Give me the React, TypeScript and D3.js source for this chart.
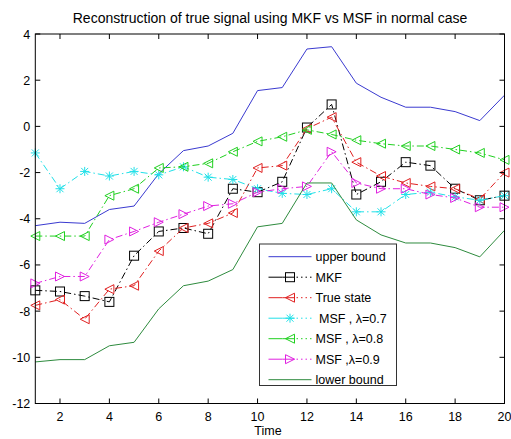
import React from "react";
import * as d3 from "d3";

const time = [1, 2, 3, 4, 5, 6, 7, 8, 9, 10, 11, 12, 13, 14, 15, 16, 17, 18, 19, 20];
const upperBound = [-4.3, -4.15, -4.2, -3.6, -3.45, -2.05, -1.05, -0.85, -0.3, 1.55, 1.68, 3.35, 3.45, 1.87, 1.26, 0.83, 0.83, 0.64, 0.25, 1.35];
const mkf = [-7.1, -7.15, -7.35, -7.6, -5.6, -4.55, -4.4, -4.65, -2.7, -2.85, -2.4, -0.05, 0.95, -2.95, -2.4, -1.55, -1.7, -2.7, -3.2, -3.0];
const trueState = [-7.75, -7.5, -8.35, -7.05, -6.9, -5.4, -4.4, -4.2, -3.75, -1.8, -1.7, -0.1, 0.4, -1.55, -2.15, -2.45, -2.6, -2.7, -3.15, -2.0];
const msf07 = [-1.15, -2.7, -1.95, -2.15, -1.95, -2.1, -1.75, -2.2, -2.3, -2.7, -2.9, -2.95, -2.7, -3.7, -3.7, -2.95, -2.85, -3.05, -3.2, -3.0];
const msf08 = [-4.75, -4.75, -4.75, -3.0, -2.7, -1.8, -1.75, -1.6, -1.1, -0.65, -0.45, -0.15, -0.35, -0.6, -0.75, -0.85, -0.85, -1.0, -1.15, -1.45];
const msf09 = [-6.8, -6.5, -6.5, -4.9, -4.55, -4.15, -3.8, -3.45, -3.35, -2.85, -2.7, -2.6, -1.1, -2.45, -2.7, -2.7, -2.95, -3.1, -3.5, -3.5];
const lowerBound = [-10.2, -10.1, -10.1, -9.5, -9.35, -7.9, -6.9, -6.7, -6.2, -4.35, -4.2, -2.45, -2.45, -4.05, -4.7, -5.05, -5.05, -5.25, -5.65, -4.5];

const xTicks = [2, 4, 6, 8, 10, 12, 14, 16, 18, 20];
const yTicks = [4, 2, 0, -2, -4, -6, -8, -10, -12];

type Marker = "none" | "square" | "left" | "right" | "star";
interface Series {
  name: string;
  values: number[];
  color: string;
  marker: Marker;
  dash: string | null;
}

const series: Series[] = [
  { name: "upper bound", values: upperBound, color: "#3a3ad0", marker: "none", dash: null },
  { name: "MKF", values: mkf, color: "#000000", marker: "square", dash: "7,3,1.5,3" },
  { name: "True state", values: trueState, color: "#e02020", marker: "left", dash: "7,3,1.5,3" },
  { name: "\u00a0MSF , \u03bb=0.7", values: msf07, color: "#20e0e8", marker: "star", dash: "7,3,1.5,3" },
  { name: "MSF , \u03bb=0.8", values: msf08, color: "#20d020", marker: "left", dash: "7,3,1.5,3" },
  { name: "MSF ,\u03bb=0.9", values: msf09, color: "#e020e0", marker: "right", dash: "7,3,1.5,3" },
  { name: "lower bound", values: lowerBound, color: "#2e8b3e", marker: "none", dash: null },
];

const W = 511, H = 439;
const L = 35.3, R = 504.5, T = 34, B = 403.5;

function MarkerShape({ type, x, y, color }: { type: Marker; x: number; y: number; color: string }) {
  const s = 4.5;
  if (type === "square")
    return <rect x={x - s} y={y - s} width={2 * s} height={2 * s} fill="none" stroke={color} strokeWidth={1} />;
  if (type === "left")
    return <polygon points={`${x - s},${y} ${x + s},${y - s} ${x + s},${y + s}`} fill="none" stroke={color} strokeWidth={1} />;
  if (type === "right")
    return <polygon points={`${x + s},${y} ${x - s},${y - s} ${x - s},${y + s}`} fill="none" stroke={color} strokeWidth={1} />;
  if (type === "star") {
    const d = 3.5;
    return (
      <g stroke={color} strokeWidth={1}>
        <line x1={x - s} y1={y} x2={x + s} y2={y} />
        <line x1={x} y1={y - s} x2={x} y2={y + s} />
        <line x1={x - d} y1={y - d} x2={x + d} y2={y + d} />
        <line x1={x - d} y1={y + d} x2={x + d} y2={y - d} />
      </g>
    );
  }
  return null;
}

export default function App() {
  const x = d3.scaleLinear().domain([1, 20]).range([L, R]);
  const y = d3.scaleLinear().domain([-12, 4]).range([B, T]);
  const line = d3
    .line<number>()
    .x((_, i) => x(time[i]))
    .y((v) => y(v));

  const font = "Arial, 'Liberation Sans', sans-serif";
  const legX = 259.5, legY = 244, legW = 137, legH = 141.5;
  const rowH = 20.5;

  return (
    <svg width={W} height={H} style={{ position: "absolute", left: 0, top: 0, background: "#fff" }} fontFamily={font}>
      <rect x={0} y={0} width={W} height={H} fill="#fff" />
      <text x={270} y={23} textAnchor="middle" fontSize={14} fill="#000">
        Reconstruction of true signal using MKF vs MSF in normal case
      </text>
      {series.map((s) => (
        <g key={s.name}>
          <path d={line(s.values) || ""} fill="none" stroke={s.color} strokeWidth={1} strokeDasharray={s.dash || undefined} />
          {s.marker !== "none" &&
            s.values.map((v, i) => <MarkerShape key={i} type={s.marker} x={x(time[i])} y={y(v)} color={s.color} />)}
        </g>
      ))}
      {/* axes box */}
      <rect x={L} y={T} width={R - L} height={B - T} fill="none" stroke="#000" strokeWidth={1} />
      {xTicks.map((t) => (
        <g key={"x" + t}>
          <line x1={x(t)} x2={x(t)} y1={B} y2={B - 5} stroke="#000" />
          <line x1={x(t)} x2={x(t)} y1={T} y2={T + 5} stroke="#000" />
          <text x={x(t)} y={421} textAnchor="middle" fontSize={12.5} fill="#000">
            {t}
          </text>
        </g>
      ))}
      {yTicks.map((t) => (
        <g key={"y" + t}>
          <line x1={L} x2={L + 5} y1={y(t)} y2={y(t)} stroke="#000" />
          <line x1={R} x2={R - 5} y1={y(t)} y2={y(t)} stroke="#000" />
          <text x={L - 5} y={y(t) + 4.5} textAnchor="end" fontSize={12.5} fill="#000">
            {t}
          </text>
        </g>
      ))}
      <text x={268} y={435} textAnchor="middle" fontSize={12.5} fill="#000">
        Time
      </text>
      {/* legend */}
      <rect x={legX} y={legY} width={legW} height={legH} fill="#fff" stroke="#333" strokeWidth={1} />
      {series.map((s, i) => {
        const cy = legY + 12.7 + i * rowH;
        const x1 = legX + 9, x2 = legX + 52;
        return (
          <g key={"leg" + s.name}>
            {s.dash ? (
              <>
                <line x1={x1} x2={x1 + 14} y1={cy} y2={cy} stroke={s.color} />
                <line x1={x1 + 14} x2={x1 + 26} y1={cy} y2={cy} stroke={s.color} />
                <line x1={x1 + 28} x2={x2} y1={cy} y2={cy} stroke={s.color} strokeDasharray="1.5,3" />
              </>
            ) : (
              <line x1={x1} x2={x2} y1={cy} y2={cy} stroke={s.color} />
            )}
            <MarkerShape type={s.marker} x={(x1 + x2) / 2} y={cy} color={s.color} />
            <text x={legX + 56} y={cy + 4.5} fontSize={12.5} fill="#000">
              {s.name}
            </text>
          </g>
        );
      })}
    </svg>
  );
}
